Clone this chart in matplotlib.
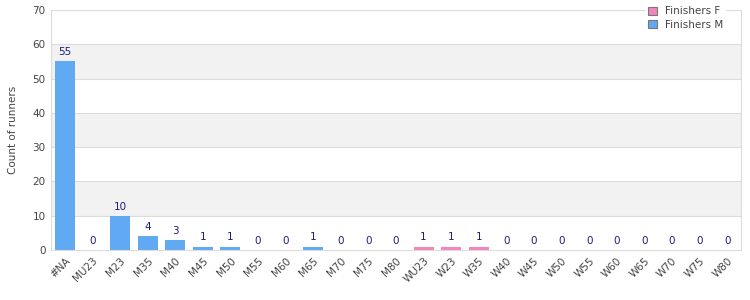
import matplotlib
matplotlib.use("Agg")
import matplotlib.pyplot as plt
import numpy as np

# categories and counts
categories = ["#NA", "MU23", "M23", "M35", "M40", "M45", "M50", "M55", "M60",
              "M65", "M70", "M75", "M80", "WU23", "W23", "W35", "W40", "W45",
              "W50", "W55", "W60", "W65", "W70", "W75", "W80"]
finishers_m = [55, 0, 10, 4, 3, 1, 1, 0, 0, 1, 0, 0, 0,
               0, 0, 0, 0, 0, 0, 0, 0, 0, 0, 0, 0]
finishers_f = [0, 0, 0, 0, 0, 0, 0, 0, 0, 0, 0, 0, 0,
               1, 1, 1, 0, 0, 0, 0, 0, 0, 0, 0, 0]
y_ticks = [0, 10, 20, 30, 40, 50, 60, 70]

col_m = "#62a9f3"
col_f = "#f285bd"
grid_col = "#dcdcdc"
text_col = "#444444"

fig = plt.figure(figsize=(7.5, 3), dpi=100)
ax = fig.add_axes([0.068, 0.1667, 0.92, 0.80])

x = np.arange(len(categories))
m = np.array(finishers_m)
f = np.array(finishers_f)

# alternating bands
for lo in range(10, 70, 20):
    ax.axhspan(lo, lo + 10, color="#f2f2f2", zorder=0, lw=0)
for t in y_ticks[1:-1]:
    ax.axhline(t, color=grid_col, lw=0.8, zorder=1)

ax.bar(x, f, width=0.72, color=col_f, zorder=2, label="Finishers F")
ax.bar(x, m, width=0.72, bottom=f, color=col_m, zorder=2, label="Finishers M")

totals = m + f
for xi, tot in zip(x, totals):
    ax.annotate(str(tot), (xi, tot), xytext=(0, 3), textcoords="offset points",
                ha="center", va="bottom", fontsize=7.5, color="#1c1c80", zorder=3)

ax.set_xlim(-0.5, len(categories) - 0.5)
ax.set_ylim(0, 70)
ax.set_yticks(y_ticks)
ax.set_xticks(x)
ax.set_xticklabels(categories, rotation=45, ha="right", rotation_mode="anchor")
ax.tick_params(axis="both", length=0, labelsize=7.5, colors=text_col, pad=4)
ax.set_ylabel("Count of runners", fontsize=7.5, color=text_col)
ax.yaxis.set_label_coords(-0.048, 0.5)

for s in ax.spines.values():
    s.set_color(grid_col)
    s.set_linewidth(0.8)

h, l = ax.get_legend_handles_labels()
leg = ax.legend(h, l, loc="upper right", bbox_to_anchor=(0.985, 1.045),
                fontsize=7.5, frameon=True, framealpha=1, edgecolor="white",
                handlelength=0.8, handleheight=0.8, borderpad=0.2,
                labelspacing=0.3, handletextpad=0.8)
for p in leg.get_patches():
    p.set_edgecolor("#777777")
    p.set_linewidth(0.8)
for t in leg.get_texts():
    t.set_color(text_col)

fig.savefig("out.png", dpi=100)
